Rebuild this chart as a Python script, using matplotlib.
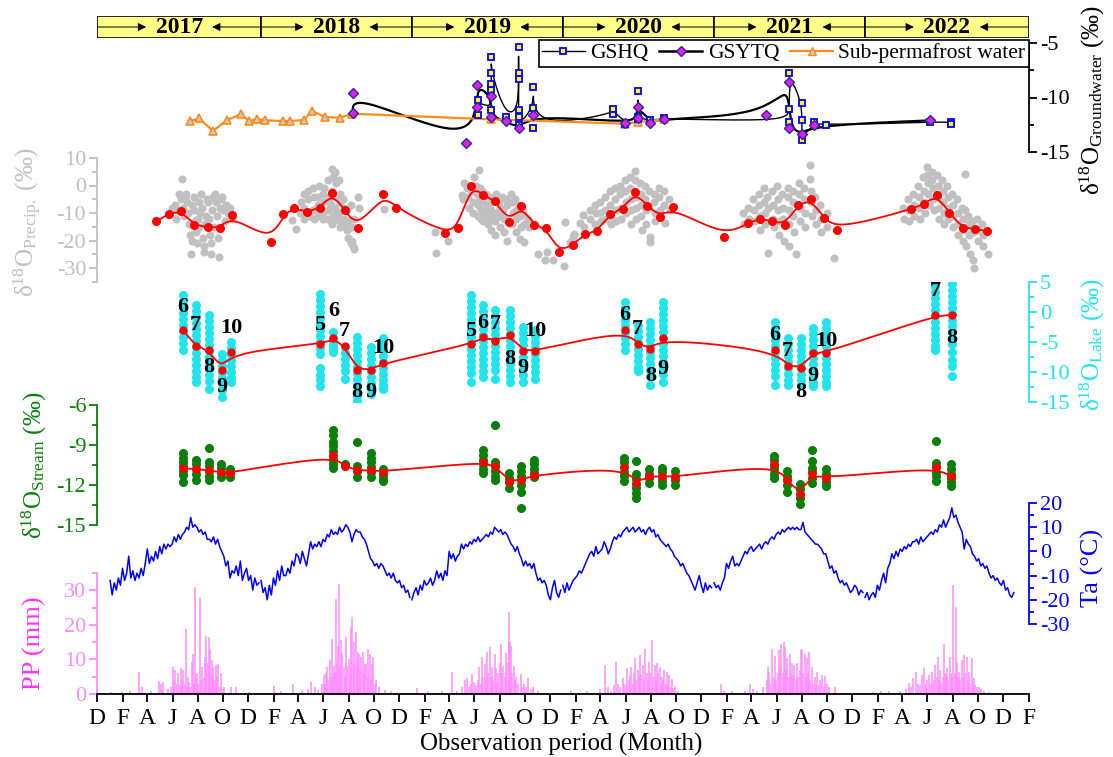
import numpy as np
import pandas as pd
import matplotlib
matplotlib.use('Agg')
import matplotlib.pyplot as plt
import matplotlib.dates as mdates
from matplotlib.ticker import MultipleLocator, FuncFormatter
from matplotlib.patches import Rectangle
from matplotlib.lines import Line2D

plt.rcParams['font.family'] = ['Liberation Serif', 'DejaVu Serif']
plt.rcParams['mathtext.fontset'] = 'custom'
plt.rcParams['mathtext.rm'] = 'Liberation Serif'
plt.rcParams['mathtext.it'] = 'Liberation Serif:italic'
plt.rcParams['axes.unicode_minus'] = False

# ---------------- groundwater d18O ----------------
gshq_dates = ['2019-06-10', '2019-06-10',
              '2019-07-12', '2019-07-12', '2019-07-12', '2019-07-12', '2019-07-12',
              '2019-08-16',
              '2019-09-16', '2019-09-16', '2019-09-16', '2019-09-16', '2019-09-16', '2019-09-16',
              '2019-10-22', '2019-10-22', '2019-10-22',
              '2020-05-01', '2020-05-01', '2020-05-30',
              '2020-07-01', '2020-07-01', '2020-07-01', '2020-07-31', '2020-09-01',
              '2021-07-02', '2021-07-02', '2021-07-02',
              '2021-08-01', '2021-08-01', '2021-08-01', '2021-08-30', '2021-09-29',
              '2022-06-08', '2022-07-27', '2022-07-27']
gshq_vals = [-11.6, -10.23,
             -11.15, -9.31, -8.79, -6.31, -7.72,
             -11.76,
             -11.15, -7.72, -5.34, -8.33, -11.76, -12.52,
             -10.99, -9.0, -12.77,
             -11.5, -11.07, -12.4,
             -11.8, -9.44, -11.95, -12.1, -11.9,
             -12.25, -11.07, -7.72,
             -10.47, -12.1, -13.9, -12.25, -12.55,
             -12.25, -12.25, -12.4]

gsytq_dates = ['2018-08-11', '2018-08-11', '2019-05-11', '2019-06-08', '2019-06-08',
               '2019-07-12', '2019-07-12', '2019-08-16', '2019-09-16', '2019-10-22',
               '2020-05-30', '2020-07-01', '2020-07-01', '2020-07-31', '2020-09-01',
               '2021-05-06', '2021-07-02', '2021-07-02', '2021-08-01', '2021-08-30',
               '2022-06-08']
gsytq_vals = [-11.39, -9.61, -14.15, -10.84, -8.85,
              -9.86, -11.76, -12.2, -12.83, -11.6,
              -12.3, -11.9, -10.83, -12.3, -11.95,
              -11.6, -8.6, -12.84, -13.37, -12.55,
              -12.1]

subpf_dates = ['2017-07-14', '2017-08-04', '2017-09-07', '2017-10-10', '2017-11-13',
               '2017-12-04', '2017-12-22', '2018-01-10', '2018-02-22', '2018-03-13',
               '2018-04-16', '2018-05-04', '2018-06-04', '2018-07-10', '2018-08-10',
               '2019-07-12', '2020-05-30', '2020-07-01', '2020-09-01']
subpf_vals = [-12.16, -11.91, -13.07, -12.09, -11.54,
              -12.16, -11.97, -12.09, -12.16, -12.16,
              -12.06, -11.21, -11.79, -11.85, -11.49,
              -12.0, -12.4, -12.25, -12.0]

# ---------------- precipitation d18O ----------------
precip_dates = ['2017-04-23', '2017-05-24', '2017-06-22', '2017-07-24', '2017-08-25', '2017-09-24', '2017-10-24',
                '2018-01-25', '2018-02-24', '2018-03-23', '2018-04-22', '2018-05-23', '2018-06-22', '2018-07-22',
                '2018-08-23', '2018-10-24', '2018-11-23',
                '2019-03-21', '2019-04-22', '2019-05-23', '2019-06-23', '2019-07-22', '2019-08-24', '2019-09-23',
                '2019-10-23', '2019-11-22', '2019-12-22',
                '2020-01-25', '2020-02-24', '2020-03-24', '2020-04-23', '2020-05-25', '2020-06-24', '2020-07-23',
                '2020-08-24', '2020-09-24',
                '2021-01-25', '2021-03-23', '2021-04-23', '2021-05-22', '2021-06-22', '2021-07-22', '2021-08-23',
                '2021-09-24', '2021-10-25',
                '2022-04-22', '2022-05-23', '2022-06-23', '2022-07-24', '2022-08-25', '2022-09-25', '2022-10-24']
precip_mean = [-13.0, -10.2, -9.2, -14.5, -15.1, -15.5, -10.8,
               -20.5, -10.4, -8.3, -9.6, -8.3, -2.8, -8.9,
               -15.5, -3.1, -8.1,
               -17.2, -15.5, 0.0, -3.4, -5.6, -13.3, -7.3,
               -14.5, -15.5, -24.2,
               -21.6, -17.6, -16.7, -10.5, -8.5, -2.5, -7.3,
               -11.4, -7.9,
               -18.6, -13.6, -12.0, -13.0, -14.2, -7.1, -5.0,
               -11.8, -16.0,
               -8.7, -6.8, -3.4, -9.9, -15.5, -15.7, -16.7]

# single events, (day of year, d18O)
events_2017 = [(150, -8), (158, -7), (163, -9), (160, -12), (168, -3), (172, -5), (176, 2.5), (178, -8),
               (180, -11), (182, -4), (185, -3), (188, -6), (190, -10), (192, -14), (194, -18), (196, -25),
               (198, -20), (200, -7), (203, -4), (205, -9), (207, -13), (209, -17), (211, -21), (213, -12),
               (215, -6), (217, -15), (219, -10), (221, -3), (223, -8), (225, -19), (227, -22), (229, -24),
               (231, -14), (233, -11), (235, -5), (238, -6), (240, -12), (242, -18), (244, -25), (246, -21),
               (248, -9), (250, -4), (252, -15), (255, -3), (257, -6), (259, -11), (262, -19), (265, -26),
               (268, -8), (270, -5), (272, -4), (275, -9), (278, -13), (281, -7), (285, -10), (290, -8),
               (295, -12)]
events_2018 = [(77, -12.7), (85, -15.8), (95, -10), (97, -6), (104, -3), (106, -8), (105, -12), (114, -2),
               (116, -11), (115, -5), (126, -1), (128, -4), (127, -9), (129, -12), (138, -4), (140, -7),
               (139, -11), (141, 0), (151, -3), (153, -6), (152, -10), (150, -12), (154, -1), (163, 2),
               (165, -5), (164, -9), (162, -12), (166, -4), (172, 6), (174, 3), (173, -2), (171, -7),
               (175, -11), (173, -14), (181, 5), (183, 1), (182, -4), (180, -8), (184, -12), (182, -10),
               (190, 2), (192, -3), (191, -6), (189, -10), (193, -13), (191, -15), (200, -5), (202, -8),
               (201, -12), (203, -14), (209, -9), (211, -13), (210, -16), (212, -19), (218, -7), (220, -15),
               (219, -21), (221, -20), (224, -22), (226, -23), (225, -12), (236, -4), (238, -8), (298, -8.5)]
events_2019 = [(58, -17), (60, -24.7), (88, -20), (116, -15), (123, -3.5), (125, -5), (127, 1), (134, -1),
               (136, -4), (138, -8), (140, 0), (146, -2), (148, -6), (150, -10), (152, 3), (156, 0),
               (158, -3), (160, -7), (162, -11), (163, 5.7), (165, -1), (166, -5), (168, -9), (167, -12),
               (171, -2), (173, -6), (175, -10), (174, -13), (176, -4), (181, -3), (183, -7), (185, -11),
               (184, -14), (186, -8), (190, -4), (192, -9), (194, -12), (193, -16), (195, -6), (199, -5),
               (201, -10), (203, -13), (202, -18), (204, -3), (211, -6), (213, -8), (215, -11), (214, -15),
               (220, -4), (222, -9), (224, -12), (223, -17), (229, -5), (231, -7), (233, -13), (232, -20),
               (241, -3), (243, -6), (245, -10), (244, -14), (250, -5), (252, -9), (254, -12), (253, -17),
               (260, -7), (262, -11), (264, -15), (263, -19.5), (269, -10), (271, -14), (273, -20.7), (270, -9),
               (281, -12), (285, -15), (307, -25), (323, -27), (327, -24), (343, -27)]
events_2020 = [(3, -29.4), (6, -13.2), (18, -20.4), (26, -18.8), (28, -17.6), (43, -13.5), (51, -10.7),
               (53, -15), (66, -12), (68, -9), (78, -14), (79, -7), (81, -10), (90, -10), (91, -6), (93, -13),
               (103, -4), (104, -9), (106, -12), (115, -2), (116, -7), (117, -11), (118, -14), (127, -1),
               (128, -5), (129, -9), (130, -13), (139, 0), (140, -3), (141, -8), (142, -12), (151, 2),
               (152, -2), (153, -6), (154, -10), (163, 3), (164, -1), (165, -5), (166, -9), (167, -14),
               (175, 5.4), (176, 2), (177, -4), (178, -8), (179, -12), (188, 1), (189, -3), (190, -7),
               (191, -11), (192, -16), (200, 0), (201, -5), (202, -9), (203, -14), (209, -2), (210, -8),
               (211, -18.8), (212, -20.7), (221, -3), (222, -6), (223, -10), (224, -13), (233, -1), (234, -4),
               (235, -9), (246, -2), (247, -7), (248, -13.6), (258, -5), (260, -9)]
events_2021 = [(72, -10), (74, -14), (84, -8), (86, -12), (96, -5), (97, -9), (98, -13), (109, -3),
               (110, -7), (111, -11), (112, -16), (121, -1), (122, -6), (123, -10), (124, -14), (130, -4),
               (131, -8), (132, -24.4), (142, -2), (143, -7), (144, -12), (145, -15), (154, 0), (155, -5),
               (156, -9), (157, -13), (158, -18), (166, -3), (167, -8), (168, -12), (169, -20), (179, -1),
               (180, -4), (181, -9), (182, -14), (183, -22), (191, -2), (192, -6), (193, -11), (194, -17),
               (198, -25), (206, 1), (207, -3), (208, -8), (209, -13), (218, -1), (219, -5), (220, -10),
               (221, -15), (233, 7.5), (234, 2.3), (235, -2), (236, -6), (237, -11), (246, -4), (247, -9),
               (248, -14), (258, -7), (259, -12), (260, -17), (273, -10), (275, -15), (292, -26.2)]
events_2022 = [(93, -8), (95, -12), (106, -5), (107, -9), (108, -13), (118, -3), (119, -7), (120, -11),
               (130, 0), (131, -4), (132, -8), (133, -12), (142, 3), (143, -2), (144, -6), (145, -10),
               (151, 6.6), (152, 4), (153, 1), (154, -3), (155, -7), (163, 5), (164, 2), (165, -1),
               (166, -5), (167, -9), (176, 4), (177, 0), (178, -4), (179, -8), (180, -12), (188, 2),
               (189, -2), (190, -6), (191, -10), (192, -14), (200, 0), (201, -4), (202, -8), (203, -12),
               (212, -3), (213, -7), (214, -11), (215, -15), (224, -5), (225, -10), (226, -14), (227, -18),
               (236, -8), (237, -12), (238, -16), (239, -20), (243, 4.1), (244, -9), (245, -22), (251, -11),
               (252, -14), (253, -18), (254, -25), (261, -13), (262, -17), (263, -27), (264, -30), (273, -12),
               (274, -16), (275, -20), (285, -14), (286, -18), (287, -22), (298, -25)]

# ---------------- lake d18O ----------------
lake_dates = ['2017-06-27', '2017-07-27', '2017-08-27', '2017-09-28', '2017-10-21',
              '2018-05-24', '2018-06-25', '2018-07-22', '2018-08-21', '2018-09-24', '2018-10-24',
              '2019-05-23', '2019-06-22', '2019-07-22', '2019-08-27', '2019-09-26', '2019-10-26',
              '2020-05-30', '2020-06-30', '2020-07-31', '2020-08-31',
              '2021-05-28', '2021-06-28', '2021-07-30', '2021-08-28', '2021-09-29',
              '2022-06-19', '2022-07-30']
lake_mean = [-3.05, -5.7, -6.3, -9.6, -6.7,
             -5.4, -4.4, -5.7, -9.6, -9.6, -8.5,
             -5.4, -4.2, -4.8, -3.8, -6.5, -6.5,
             -3.0, -5.3, -6.1, -4.4,
             -6.4, -9.0, -9.3, -6.8, -6.8,
             -0.54, -0.54]
lake_month = [6, 7, 8, 9, 10,
              5, 6, 7, 8, 9, 10,
              5, 6, 7, 8, 9, 10,
              6, 7, 8, 9,
              6, 7, 8, 9, 10,
              7, 8]
lake_samples = [
    [2.8, 1.8, 0.8, -0.2, -1.2, -2.2, -3.2, -4.2, -5.2, -6.4],
    [1.1, 0.1, -0.9, -1.9, -2.9, -3.9, -4.9, -5.9, -6.9, -7.9, -8.9, -9.9, -10.9, -11.7],
    [-0.5, -1.5, -2.5, -3.5, -4.5, -5.5, -6.5, -7.5, -8.5, -9.5, -10.5, -11.5, -12.8],
    [-7.0, -8.0, -9.0, -10.0, -11.0, -12.0, -13.0, -14.2],
    [-5.0, -6.0, -7.0, -8.0, -9.0, -10.0, -11.0, -11.7],
    [3.0, 2.0, 1.0, 0.0, -1.0, -2.0, -3.0, -4.0, -5.0, -6.0, -7.0, -9.3, -10.5, -11.3, -12.3],
    [-3.3, -4.3, -5.3, -6.0, -6.7],
    [-5.8, -6.8, -7.8, -8.8, -9.8, -11.1],
    [-4.2, -5.2, -6.2, -7.2, -8.2, -9.2, -10.2, -11.2, -12.2, -13.2, -14.0, -14.8],
    [-5.8, -6.8, -7.8, -8.8, -9.8, -10.8, -11.8, -12.8, -13.6],
    [-4.4, -5.4, -6.4, -7.4, -8.4, -9.4, -10.4, -11.4, -12.2, -12.8],
    [2.8, 1.8, 0.8, -0.2, -1.2, -2.2, -3.2, -4.2, -5.2, -6.2, -7.2, -8.2, -9.2, -10.2, -11.7],
    [1.1, 0.1, -0.9, -1.9, -2.9, -3.9, -4.9, -5.9, -6.9, -7.9, -8.9, -9.9, -10.9],
    [0.3, -0.7, -1.7, -2.7, -3.7, -4.7, -5.7, -6.7, -7.7, -8.7, -9.7, -11.1],
    [0.3, -0.7, -1.7, -2.7, -3.7, -4.7, -5.7, -6.7, -7.7, -8.7, -9.7, -10.7, -11.7],
    [-2.5, -3.5, -4.5, -5.5, -6.5, -7.5, -8.5, -9.5, -10.5, -11.7],
    [-3.0, -4.0, -5.0, -6.0, -7.0, -8.0, -9.0, -10.0, -11.1],
    [1.6, 0.6, -0.4, -1.4, -2.4, -3.4, -4.4, -5.4, -6.4],
    [-2.1, -3.1, -4.1, -5.1, -6.1, -7.1, -8.1, -9.1, -9.9],
    [-1.6, -2.6, -3.6, -4.6, -5.6, -6.6, -7.6, -8.6, -9.6, -10.6, -12.1],
    [1.6, 0.6, -0.4, -1.4, -2.4, -3.4, -4.4, -5.4, -6.4, -7.4, -8.4, -9.4, -10.4, -11.6],
    [-1.6, -2.6, -3.6, -4.6, -5.6, -6.6, -7.6, -8.6, -9.6, -10.6, -12.1],
    [-4.4, -5.4, -6.4, -7.4, -8.4, -9.4, -10.4, -11.4, -12.1],
    [-4.4, -5.4, -6.4, -7.4, -8.4, -9.4, -10.4, -11.4, -12.1],
    [-2.7, -3.7, -4.7, -5.7, -6.7, -7.7, -8.7, -9.7, -10.7, -11.7, -12.4],
    [-1.6, -2.6, -3.6, -4.6, -5.6, -6.6, -7.6, -8.6, -9.6, -10.6, -11.6, -12.4],
    [4.4, 3.4, 2.4, 1.4, 0.4, -0.6, -1.6, -2.6, -3.6, -4.6, -5.6, -6.4],
    [4.7, 3.7, 2.7, 1.7, 0.7, -0.3, -1.3, -2.3, -3.3, -4.3, -5.3, -6.7, -8.0, -9.0, -10.7],
]
# label offset from the monthly mean, px (+ above, - below)
lake_label_dy = [23, 21, -17, -17, 24,
                 19, 27, 15, -22, -22, 15,
                 13, 14, 17, -24, -17, 20,
                 15, 15, -27, -31,
                 15, 15, -24, -23, 12,
                 24, -23]

# ---------------- stream d18O ----------------
stream_dates = ['2017-06-26', '2017-07-27', '2017-08-27', '2017-09-27', '2017-10-18',
                '2018-06-23', '2018-07-24', '2018-08-21', '2018-09-24', '2018-10-24',
                '2019-06-22', '2019-07-22', '2019-08-25', '2019-09-23', '2019-10-23',
                '2020-05-28', '2020-06-27', '2020-07-28', '2020-08-28', '2020-09-28',
                '2021-05-27', '2021-06-27', '2021-07-27', '2021-08-27', '2021-09-29',
                '2022-06-22', '2022-07-27']
stream_mean = [-10.75, -10.8, -10.9, -11.05, -11.1,
               -9.75, -10.6, -10.9, -10.9, -11.0,
               -10.25, -10.6, -11.75, -11.6, -11.25,
               -10.65, -11.85, -11.35, -11.35, -11.4,
               -10.45, -11.6, -12.7, -11.2, -11.5,
               -10.65, -11.35]
stream_samples = [
    [-9.6, -9.95, -10.3, -10.6, -10.95, -11.25, -11.75],
    [-10.1, -10.45, -10.8, -11.15, -11.6],
    [-9.25, -10.25, -10.6, -10.95, -11.3, -11.6],
    [-10.4, -10.75, -11.1, -11.4],
    [-10.8, -11.1, -11.4],
    [-7.9, -8.25, -8.75, -9.1, -9.45, -9.8, -10.15, -10.45, -10.75],
    [-10.45, -10.6],
    [-8.8, -10.6, -10.95, -11.4],
    [-9.6, -9.95, -10.3, -10.65, -11.0, -11.4],
    [-10.8, -11.15, -11.45, -11.7],
    [-9.4, -9.75, -10.1, -10.45, -10.8, -11.1],
    [-7.5, -10.25, -10.6, -10.95, -11.3, -11.6],
    [-11.1, -11.45, -11.8, -12.25],
    [-10.6, -10.95, -11.3, -11.65, -12.0, -12.5, -13.75],
    [-10.1, -10.45, -10.8, -11.1, -11.4],
    [-9.94, -10.3, -10.65, -11.0, -11.35, -11.73],
    [-10.2, -11.2, -11.55, -11.9, -12.25, -12.6, -13.0],
    [-10.83, -11.2, -11.5, -11.85],
    [-10.7, -11.05, -11.4, -11.7, -11.98],
    [-10.96, -11.3, -11.65, -11.98],
    [-9.8, -10.15, -10.5, -10.8, -11.15, -11.47],
    [-10.96, -11.3, -11.65, -12.0, -12.5],
    [-11.93, -12.3, -12.65, -13.0, -13.39],
    [-9.37, -10.2, -10.7, -11.05, -11.45, -11.85],
    [-10.83, -11.2, -11.5, -11.8, -12.11],
    [-8.7, -10.32, -10.65, -11.0, -11.35, -11.73],
    [-10.45, -10.8, -11.15, -11.45, -11.8, -12.11],
]

# ---------------- air temperature, 5-day values from 1 Jan each year ----------------
ta_2017 = [-12, -18, -13, -16, -11, -14, -7, -12, -9, -2, -11, -8, -12, -9, -11, -7, -10, -5,
           1, -5, -2, -4, 0, -3, 2, -1, 3, 1, 3, 2, 3, 6, 4, 7, 5, 7,
           8, 10, 9, 14, 10, 11, 10, 8, 9, 7, 8, 5, 5, 4, 6, 3, 5, 2,
           0, -2, -6, -4, -11, -8, -9, -6, -10, -4, -12, -9, -7, -12, -10, -16, -11, -14, -13]
ta_2018 = [-12, -17, -15, -20, -14, -18, -11, -14, -8, -12, -6, -10, -10, -7, -9, -4, -6, -1,
           -2, -5, 0, -3, -6, -1, 4, 1, 3, 2, 4, 2, 5, 4, 7, 6, 9, 7,
           8, 7, 10, 8, 9, 11, 10, 8, 4, 7, 9, 8, 8, 6, 5, 3, 0, -3,
           -4, -6, -5, -7, -5, -6, -8, -10, -9, -11, -9, -12, -13, -12, -15, -14, -17, -16, -19]
ta_2019 = [-20, -17, -15, -18, -14, -16, -12, -14, -13, -11, -14, -12, -8, -11, -9, -12, -8, -10,
           0, -3, -1, -4, -2, -1, 3, 1, 3, 2, 4, 3, 5, 4, 6, 4, 5, 6,
           7, 6, 8, 7, 10, 9, 8, 9, 7, 8, 7, 5, 3, 2, 0, 2, -1, -3,
           -6, -4, -6, -5, -7, -5, -9, -12, -11, -13, -12, -14, -18, -20, -15, -12, -17, -19, -16]
ta_2020 = [-14, -17, -13, -16, -14, -12, -11, -10, -8, -9, -7, -5, -3, -1, 0, -2, 2, -1,
           0, 1, 4, 2, -1, 1, 4, 6, 5, 7, 6, 8, 9, 10, 8, 9, 10, 8,
           9, 10, 8, 9, 7, 9, 10, 8, 9, 6, 7, 5, 4, 3, 2, 3, 1, 0,
           -2, -3, -4, -6, -5, -7, -9, -10, -12, -14, -16, -13, -10, -14, -17, -13, -16, -14, -15]
ta_2021 = [-13, -15, -14, -16, -13, -11, -5, -7, -4, -2, -6, -5, -6, -4, -2, 0, -1, 1,
           2, 0, 1, 2, 3, 1, 3, 4, 3, 5, 6, 5, 7, 8, 7, 9, 8, 9,
           10, 9, 10, 9, 10, 9, 9, 12, 8, 7, 6, 5, 4, 3, 3, 2, 1, -1,
           -1, -4, -7, -6, -9, -8, -11, -13, -12, -14, -13, -15, -17, -16, -14, -15, -18, -16, -17]
ta_2022 = [-19, -17, -20, -18, -17, -19, -14, -16, -12, -9, -13, -7, -5, -1, -3, 0, -2, 1,
           0, 2, 1, 3, 2, 4, 4, 5, 3, 6, 4, 5, 6, 7, 8, 7, 9, 8,
           11, 10, 13, 10, 12, 14, 18, 14, 15, 12, 10, 8, 1, 5, 3, 2, -1, -2,
           -4, -3, -6, -5, -7, -6, -9, -11, -10, -12, -11, -13, -14, -12, -16, -15, -18, -19, -17]

# ---------------- daily precipitation, (day of year, mm) ----------------
pp_2017 = [(3, 0.7), (30, 0.7), (50, 1.0), (72, 6.4), (78, 2.0), (100, 1.0), (120, 3.8), (124, 3.0),
           (128, 3.5), (140, 1.5), (148, 2.0), (153, 7.8), (156, 4.0), (159, 6.9), (163, 3.0), (166, 6.0),
           (169, 2.5), (172, 7.4), (175, 4.0), (177, 6.9), (181, 3.0), (184, 18.8), (187, 2.0), (189, 5.0),
           (192, 3.5), (195, 2.0), (198, 9.3), (202, 11.7), (204, 3.0), (206, 30.9), (208, 5.0), (211, 6.0),
           (214, 3.0), (218, 27.9), (221, 4.0), (224, 7.8), (227, 4.5), (230, 10.7), (232, 5.0), (234, 16.9),
           (236, 9.0), (239, 16.4), (241, 8.0), (243, 13.1), (245, 6.0), (247, 9.7), (249, 5.0), (251, 7.8),
           (254, 4.0), (256, 8.3), (258, 3.0), (260, 5.0), (263, 8.6), (266, 2.0), (270, 6.0), (273, 1.5),
           (276, 2.0), (293, 2.0), (306, 2.0), (338, 0.7)]
pp_2018 = [(32, 2.3), (50, 0.8), (79, 3.0), (100, 1.0), (115, 1.5), (123, 3.5), (131, 2.0), (140, 1.2),
           (148, 3.0), (153, 5.4), (156, 3.0), (159, 6.0), (161, 7.8), (164, 4.0), (167, 9.7), (170, 5.0),
           (173, 16.0), (176, 6.0), (178, 8.0), (180, 6.0), (183, 27.4), (186, 9.0), (188, 14.0), (190, 31.7),
           (192, 8.0), (195, 15.5), (198, 11.7), (201, 7.8), (204, 5.0), (207, 16.4), (210, 8.0), (213, 10.2),
           (216, 6.0), (219, 19.3), (222, 22.3), (225, 9.0), (227, 15.0), (230, 17.9), (233, 8.0), (235, 12.1),
           (238, 11.7), (241, 7.0), (244, 10.7), (247, 12.1), (250, 6.0), (253, 8.8), (256, 8.8), (259, 5.0),
           (261, 13.1), (264, 11.7), (267, 4.0), (270, 8.8), (273, 10.7), (276, 3.0), (278, 4.0), (287, 2.0),
           (300, 1.3), (315, 0.8)]
pp_2019 = [(13, 1.6), (40, 0.8), (75, 1.0), (97, 6.4), (110, 1.0), (122, 2.0), (130, 4.0), (134, 4.5),
           (138, 2.0), (143, 3.0), (147, 5.9), (151, 3.5), (155, 2.5), (160, 4.0), (164, 7.8), (167, 3.0),
           (171, 10.7), (174, 5.0), (177, 8.8), (180, 4.0), (182, 12.1), (186, 6.0), (189, 13.6), (192, 5.0),
           (195, 7.8), (198, 4.0), (201, 11.7), (204, 7.4), (207, 3.5), (210, 6.0), (213, 9.0), (216, 14.5),
           (219, 6.0), (222, 8.0), (226, 5.0), (229, 12.0), (232, 9.0), (235, 23.6), (237, 15.0), (239, 15.0),
           (241, 14.0), (244, 6.0), (247, 8.0), (250, 4.0), (254, 5.0), (258, 3.0), (264, 5.9), (268, 2.0),
           (272, 3.0), (278, 2.0), (282, 4.5), (288, 1.5), (295, 2.0), (305, 1.0)]
pp_2020 = [(20, 1.0), (60, 0.8), (90, 1.5), (104, 8.4), (110, 2.0), (118, 1.0), (125, 2.5), (130, 9.3),
           (135, 3.0), (140, 2.0), (146, 4.7), (150, 3.0), (154, 2.5), (157, 7.5), (160, 4.0), (163, 5.1),
           (167, 7.9), (170, 3.0), (173, 6.0), (176, 10.3), (179, 4.0), (182, 7.0), (185, 5.0), (188, 11.2),
           (191, 5.5), (194, 8.4), (197, 4.0), (201, 13.1), (204, 6.0), (207, 4.0), (210, 9.3), (213, 6.0),
           (217, 15.7), (220, 5.0), (223, 8.4), (226, 4.0), (229, 8.9), (232, 6.0), (235, 7.9), (238, 3.0),
           (241, 5.0), (244, 4.0), (247, 7.0), (250, 3.0), (252, 6.5), (255, 2.5), (258, 5.6), (262, 2.0),
           (265, 4.2), (268, 1.5), (272, 2.3), (280, 1.0)]
pp_2021 = [(17, 3.0), (25, 1.0), (45, 0.8), (75, 1.0), (88, 2.8), (95, 1.5), (105, 1.0), (120, 2.0),
           (128, 4.0), (132, 7.9), (135, 6.5), (139, 3.0), (142, 13.1), (145, 5.0), (148, 11.0), (151, 4.0),
           (155, 6.0), (158, 12.6), (161, 8.0), (164, 14.5), (167, 6.0), (170, 15.0), (172, 13.6), (175, 7.0),
           (178, 10.3), (181, 5.0), (184, 11.7), (187, 6.0), (189, 8.9), (192, 5.6), (195, 8.4), (198, 4.0),
           (201, 8.9), (204, 5.0), (208, 7.0), (211, 12.6), (214, 13.1), (217, 6.0), (220, 11.7), (223, 5.0),
           (226, 10.3), (229, 6.0), (231, 12.1), (234, 4.0), (238, 7.9), (241, 3.0), (245, 5.0), (248, 3.0),
           (251, 6.5), (255, 2.5), (258, 4.0), (262, 5.6), (266, 2.0), (270, 5.1), (273, 3.0), (280, 2.0),
           (293, 2.0)]
pp_2022 = [(20, 0.6), (40, 1.0), (60, 0.8), (85, 1.0), (100, 1.5), (107, 3.3), (112, 2.0), (118, 4.5),
           (125, 6.5), (130, 3.0), (135, 2.5), (139, 5.6), (144, 7.5), (148, 3.0), (152, 4.0), (156, 5.5),
           (160, 3.0), (164, 6.5), (167, 4.0), (171, 8.4), (174, 5.0), (177, 10.7), (180, 4.0), (183, 7.0),
           (186, 3.5), (189, 5.0), (191, 14.5), (194, 6.0), (197, 5.5), (200, 7.5), (203, 4.0), (206, 10.7),
           (209, 6.0), (212, 5.0), (215, 31.6), (218, 6.0), (220, 25.2), (223, 8.9), (226, 5.0), (229, 6.5),
           (232, 4.0), (235, 9.8), (238, 5.0), (241, 11.2), (244, 6.0), (247, 10.7), (250, 4.0), (253, 6.5),
           (256, 3.0), (259, 10.3), (262, 3.5), (265, 4.5), (268, 2.5), (272, 2.0), (276, 1.9), (282, 1.5),
           (290, 1.0), (300, 0.5)]

YEARS = [2017, 2018, 2019, 2020, 2021, 2022]

# ---------------- helpers ----------------
START, END = pd.Timestamp('2016-12-01'), pd.Timestamp('2023-02-01')
XLIM = (mdates.date2num(START), mdates.date2num(END))
W, H = 1113, 757
X0, X1 = 97.3, 1028.7
DAYS_PER_PX = (XLIM[1] - XLIM[0]) / (X1 - X0)


def dnum(dates):
    return mdates.date2num(pd.to_datetime(dates))


def by_doy(year, pairs):
    d = np.array([p[0] for p in pairs], float)
    v = np.array([p[1] for p in pairs], float)
    return mdates.date2num(pd.Timestamp(f'{year}-01-01')) + d - 1, v


def bspline(x, y, n=30):
    # clamped uniform cubic B-spline, points used as control points
    x = np.asarray(x, float)
    y = np.asarray(y, float)
    px = np.r_[x[0], x[0], x, x[-1], x[-1]]
    py = np.r_[y[0], y[0], y, y[-1], y[-1]]
    t = np.linspace(0, 1, n)[:, None]
    b = np.hstack([(1 - t) ** 3, 3 * t ** 3 - 6 * t ** 2 + 4,
                   -3 * t ** 3 + 3 * t ** 2 + 3 * t + 1, t ** 3]) / 6
    xs = [b @ px[i:i + 4] for i in range(len(px) - 3)]
    ys = [b @ py[i:i + 4] for i in range(len(py) - 3)]
    return np.concatenate(xs), np.concatenate(ys)


def d18o(sub):
    return '$\\mathrm{δ}^{18}\\mathrm{O}_{\\mathrm{' + sub + '}}$ (‰)'


fig = plt.figure(figsize=(W / 100, H / 100), dpi=100)


def panel(top, bottom, side, color, ylim, major, minor):
    ax = fig.add_axes([X0 / W, 1 - bottom / H, (X1 - X0) / W, (bottom - top) / H])
    ax.set_xlim(XLIM)
    ax.set_ylim(ylim)
    ax.patch.set_visible(False)
    for k, s in ax.spines.items():
        s.set_visible(k == side)
    ax.spines[side].set_color(color)
    ax.spines[side].set_linewidth(1.3)
    ax.xaxis.set_visible(False)
    if side == 'right':
        ax.yaxis.tick_right()
    else:
        ax.yaxis.tick_left()
    ax.yaxis.set_major_locator(MultipleLocator(major))
    ax.yaxis.set_minor_locator(MultipleLocator(minor))
    ax.tick_params(axis='y', which='both', colors=color, width=1.3, direction='out')
    ax.tick_params(axis='y', which='major', length=6, labelsize=16, pad=2)
    ax.tick_params(axis='y', which='minor', length=3.5)
    return ax


C_GRAY, C_CYAN, C_GREEN, C_BLUE = '#c0c0c0', '#22e4ec', '#0a7f0a', '#0000ff'
C_PINK, C_MAG, C_RED, C_ORANGE = '#ff8cff', '#ff33ff', '#ff0000', '#ff8c1a'

# ---- year header ----
axh = fig.add_axes([X0 / W, 1 - 38 / H, (X1 - X0) / W, 22 / H])
axh.set_xlim(XLIM)
axh.set_ylim(0, 1)
axh.axis('off')
edges = dnum([START] + [f'{y}-01-01' for y in YEARS[1:]] + [END])
gap = 33 * DAYS_PER_PX
for i, yr in enumerate(YEARS):
    a, b = edges[i], edges[i + 1]
    axh.add_patch(Rectangle((a, 0), b - a, 1, facecolor='#ffff88', edgecolor='k', lw=1.2))
    c = (a + b) / 2
    axh.text(c, 0.47, str(yr), ha='center', va='center', fontsize=17, fontweight='bold')
    for s, e in ((a, c - gap), (b, c + gap)):
        axh.annotate('', xy=(e, 0.5), xytext=(s, 0.5),
                     arrowprops=dict(arrowstyle='-|>', color='k', lw=0.7, mutation_scale=12,
                                     shrinkA=0, shrinkB=0))

# ---- groundwater ----
ax_gw = panel(43, 152, 'right', 'k', (-15, -5), 5, 2.5)
x, y = bspline(dnum(gshq_dates), gshq_vals)
ax_gw.plot(x, y, color='k', lw=1.0, zorder=2)
x, y = bspline(dnum(gsytq_dates), gsytq_vals)
ax_gw.plot(x, y, color='k', lw=1.6, zorder=2)
ax_gw.plot(dnum(subpf_dates), subpf_vals, color=C_ORANGE, lw=1.6, marker='^', ms=6,
           mfc='#c8c8c8', mec=C_ORANGE, mew=1.2, zorder=3)
ax_gw.plot(dnum(gshq_dates), gshq_vals, ls='none', marker='s', ms=5, mfc='#ffff00',
           mec=C_BLUE, mew=1.3, zorder=4)
ax_gw.plot(dnum(gsytq_dates), gsytq_vals, ls='none', marker='D', ms=5.5, mfc='#e020e0',
           mec='#2a2aa0', mew=1.0, zorder=5)

handles = [Line2D([], [], color='k', lw=1.0, marker='s', ms=5, mfc='#ffff00', mec=C_BLUE, mew=1.3),
           Line2D([], [], color='k', lw=1.8, marker='D', ms=5.5, mfc='#e020e0', mec='#2a2aa0'),
           Line2D([], [], color=C_ORANGE, lw=1.6, marker='^', ms=6, mfc='#c8c8c8', mec=C_ORANGE)]
leg = fig.legend(handles, ['GSHQ', 'GSYTQ', 'Sub-permafrost water'], loc='upper right',
                 bbox_to_anchor=(X1 / W, 1 - 40 / H), ncol=3, frameon=True, fancybox=False,
                 edgecolor='k', framealpha=1, fontsize=15.5, handlelength=2.0, handletextpad=0.25,
                 columnspacing=0.5, borderpad=0.15, borderaxespad=0)
leg.get_frame().set_linewidth(1.2)

# ---- precipitation isotopes ----
ax_p = panel(158, 281.75, 'left', C_GRAY, (-35, 10), 10, 5)
for yr, ev in zip(YEARS, [events_2017, events_2018, events_2019, events_2020, events_2021, events_2022]):
    x, y = by_doy(yr, ev)
    ax_p.scatter(x, y, s=34, color=C_GRAY, lw=0, zorder=1)
x, y = bspline(dnum(precip_dates), precip_mean)
ax_p.plot(x, y, color=C_RED, lw=1.3, zorder=2)
ax_p.plot(dnum(precip_dates), precip_mean, ls='none', marker='o', ms=5.5, color=C_RED, zorder=3)

# ---- lake isotopes ----
ax_l = panel(282, 402, 'right', C_CYAN, (-15, 5), 5, 2.5)
lx = dnum(lake_dates)
for xi, vals in zip(lx, lake_samples):
    ax_l.plot(np.full(len(vals), xi), vals, ls='none', marker='o', ms=5.5, color=C_CYAN, zorder=1)
x, y = bspline(lx, lake_mean)
ax_l.plot(x, y, color=C_RED, lw=1.3, zorder=2)
ax_l.plot(lx, lake_mean, ls='none', marker='o', ms=5, color=C_RED, zorder=3)
for xi, yi, mo, dy in zip(lx, lake_mean, lake_month, lake_label_dy):
    ax_l.annotate(str(mo), (xi, yi), xytext=(0, dy * 0.72), textcoords='offset points',
                  ha='center', va='center', fontsize=16, fontweight='bold', zorder=4)

# ---- stream isotopes ----
ax_s = panel(405, 525, 'left', C_GREEN, (-15, -6), 3, 1.5)
sx = dnum(stream_dates)
for xi, vals in zip(sx, stream_samples):
    ax_s.plot(np.full(len(vals), xi), vals, ls='none', marker='o', ms=5.5, color=C_GREEN, zorder=1)
x, y = bspline(sx, stream_mean)
ax_s.plot(x, y, color=C_RED, lw=1.3, zorder=2)
ax_s.plot(sx, stream_mean, ls='none', marker='o', ms=5, color=C_RED, zorder=3)

# ---- air temperature ----
ax_t = panel(503, 624, 'right', C_BLUE, (-30, 20), 10, 5)
for yr, ta in zip(YEARS, [ta_2017, ta_2018, ta_2019, ta_2020, ta_2021, ta_2022]):
    t0 = mdates.date2num(pd.Timestamp(f'{yr}-01-01'))
    ax_t.plot(t0 + 5 * np.arange(len(ta)), ta, color=C_BLUE, lw=1.1)

# ---- precipitation amount + time axis ----
ax_pp = panel(573, 694, 'left', C_PINK, (0, 35), 10, 5)
for yr, pp in zip(YEARS, [pp_2017, pp_2018, pp_2019, pp_2020, pp_2021, pp_2022]):
    x, y = by_doy(yr, pp)
    ax_pp.vlines(x, 0, y, color=C_PINK, lw=1.1)
ax_pp.spines['bottom'].set_visible(True)
ax_pp.spines['bottom'].set_color('k')
ax_pp.spines['bottom'].set_linewidth(1.3)
ax_pp.xaxis.set_visible(True)
ax_pp.xaxis.set_major_locator(mdates.MonthLocator(bymonth=[12, 2, 4, 6, 8, 10]))
ax_pp.xaxis.set_major_formatter(FuncFormatter(lambda v, p: mdates.num2date(v).strftime('%b')[0]))
ax_pp.tick_params(axis='x', colors='k', labelsize=17, length=6, width=1.3, direction='out', pad=4)

# ---- axis titles ----
fig.text(1092 / W, 1 - 100 / H, d18o('Groundwater'), rotation=90,
         ha='center', va='center', fontsize=18, color='k')
fig.text(28 / W, 1 - 222 / H, d18o('Precip.'), rotation=90,
         ha='center', va='center', fontsize=18, color=C_GRAY)
fig.text(1092 / W, 1 - 345 / H, d18o('Lake'), rotation=90,
         ha='center', va='center', fontsize=18, color=C_CYAN)
fig.text(34 / W, 1 - 465 / H, d18o('Stream'), rotation=90,
         ha='center', va='center', fontsize=18, color=C_GREEN)
fig.text(1092 / W, 1 - 568 / H, 'Ta (°C)', rotation=90, ha='center', va='center',
         fontsize=19, color=C_BLUE)
fig.text(34 / W, 1 - 643 / H, 'PP (mm)', rotation=90, ha='center', va='center',
         fontsize=19, color=C_MAG)
fig.text(561 / W, 1 - 744 / H, 'Observation period (Month)', ha='center', va='center',
         fontsize=18, color='k')

fig.savefig('out.png', dpi=100)
